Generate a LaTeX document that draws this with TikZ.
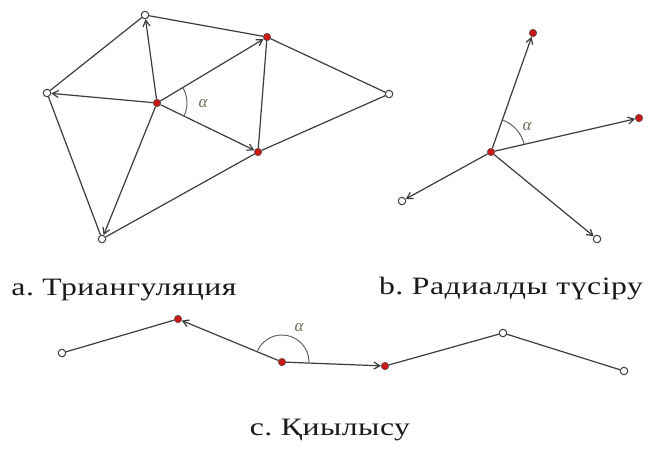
\documentclass[tikz,border=0pt]{standalone}
\usepackage{fontspec}
\setmainfont{Liberation Serif}
\newfontfamily\capfont[FakeStretch=1.27,LetterSpace=2]{Liberation Serif}
\usetikzlibrary{arrows.meta}
\definecolor{edgecol}{HTML}{3C3C3C}
\definecolor{dotred}{HTML}{C81818}
\definecolor{alphacol}{HTML}{6E6C58}
\frenchspacing
\begin{document}
\begin{tikzpicture}[x=1pt,y=-1pt,
  reddot/.style={circle,fill=dotred,draw=black!70,line width=0.5pt,inner sep=0pt,minimum size=7.5pt},
  opendot/.style={circle,fill=white,draw=edgecol,line width=1pt,inner sep=0pt,minimum size=7.5pt},
  edge/.style={draw=edgecol,line width=1.2pt},
  arr/.style={edge,-{Straight Barb[length=6pt,width=7pt]}},
  anglearc/.style={draw=edgecol!80,line width=1pt},
  alphalbl/.style={text=alphacol,font=\fontsize{17}{20}\selectfont\itshape},
  caption/.style={font=\capfont\fontsize{25}{30}\selectfont,text=black!90,inner sep=0pt}]
\useasboundingbox (0,0) rectangle (652,448);
% ---- panel a
\node[opendot] (aT) at (145,15) {};
\node[reddot] (aR1) at (267,37) {};
\node[opendot] (aL) at (47,93) {};
\node[reddot] (aC) at (157,103) {};
\node[opendot] (aRR) at (389,94) {};
\node[reddot] (aR2) at (258,152) {};
\node[opendot] (aB) at (102,239) {};
\path[edge] (aT) -- (aL);
\path[edge] (aT) -- (aR1);
\path[edge] (aR1) -- (aRR);
\path[edge] (aR1) -- (aR2);
\path[edge] (aRR) -- (aR2);
\path[edge] (aL) -- (aB);
\path[edge] (aB) -- (aR2);
\path[arr] (aC) -- (aT);
\path[arr] (aC) -- (aL);
\path[arr] (aC) -- (aR1);
\path[arr] (aC) -- (aR2);
\path[arr] (aC) -- (aB);
\draw[anglearc] ([shift={(31:30pt)}]aC.center) arc[start angle=31,end angle=-26,radius=30pt];
\node[alphalbl] (aAlpha) at (203,104) {α};
% ---- panel b
\node[reddot] (bC) at (491,152) {};
\node[reddot] (bT) at (533,33) {};
\node[reddot] (bR) at (639,118) {};
\node[opendot] (bL) at (402,201) {};
\node[opendot] (bB) at (597,239) {};
\path[arr] (bC) -- (bT);
\path[arr] (bC) -- (bR);
\path[arr] (bC) -- (bL);
\path[arr] (bC) -- (bB);
\draw[anglearc] ([shift={(70:34pt)}]bC.center) arc[start angle=70,end angle=13,radius=34pt];
\node[alphalbl] (bAlpha) at (527,127) {α};
% ---- panel c
\node[opendot] (c1) at (62,353) {};
\node[reddot] (c2) at (178,319) {};
\node[reddot] (c3) at (282,362) {};
\node[reddot] (c4) at (385,366) {};
\node[opendot] (c5) at (503,333) {};
\node[opendot] (c6) at (624,371) {};
\path[edge] (c1) -- (c2);
\path[arr] (c3) -- (c2);
\path[arr] (c3) -- (c4);
\path[edge] (c4) -- (c5);
\path[edge] (c5) -- (c6);
\draw[anglearc] ([shift={(0:27pt)}]c3.center) arc[start angle=0,end angle=155,radius=27pt];
\node[alphalbl] (cAlpha) at (299,328) {α};
% ---- captions
\node[caption] (capA) at (124,290) {a. Триангуляция};
\node[caption] (capB) at (511,289) {b. Радиалды түсіру};
\node[caption] (capC) at (330,430) {c. Қиылысу};
\end{tikzpicture}
\end{document}
